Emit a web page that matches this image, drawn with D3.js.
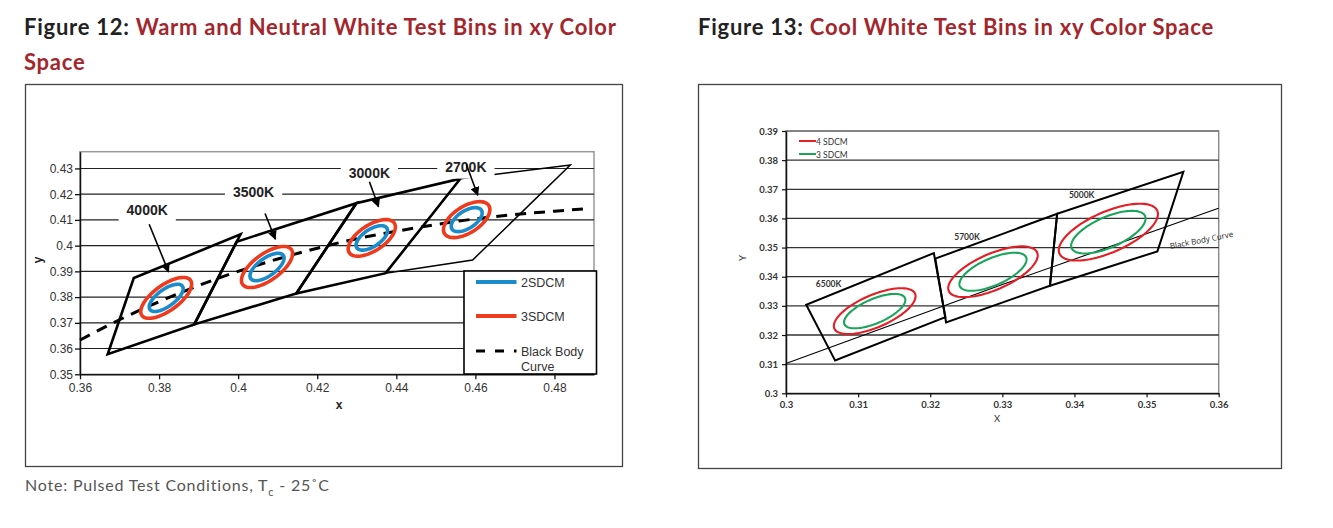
<!DOCTYPE html>
<html>
<head>
<meta charset="utf-8">
<script src="https://cdn.jsdelivr.net/npm/d3@7"></script>
<style>
body{margin:0;background:#fff;}
svg{display:block;}
</style>
</head>
<body>
<div id="container"></div>
<script>
// ---------- figure 12 : warm + neutral white ----------
let warmNames = ["4000K","3500K","3000K","2700K"];
// quad corners: bottom-left, top-left, top-right, bottom-right
let warmQuadX = [[0.3670,0.3736,0.4006,0.3889],[0.3889,0.3996,0.4299,0.4147],[0.4147,0.4299,0.4562,0.4373],[0.4373,0.4562,0.4840,0.4593]];
let warmQuadY = [[0.3578,0.3874,0.4044,0.3694],[0.3694,0.4015,0.4165,0.3814],[0.3814,0.4165,0.4260,0.3893],[0.3893,0.4260,0.4313,0.3944]];
// MacAdam 1-step ellipses
let warmCx = [0.3818,0.4073,0.4338,0.4578];
let warmCy = [0.3797,0.3917,0.4030,0.4101];
let warmA = [0.00313,0.00313,0.00278,0.00270];
let warmB = [0.00134,0.00139,0.00136,0.00140];
let warmTheta = [53.72,54.00,53.22,53.70];
let warmSteps = [3,2];
// black body curve
let bbWarmX = [0.36,0.37,0.38,0.39,0.40,0.41,0.42,0.43,0.44,0.45,0.46,0.47,0.48,0.4885];
let bbWarmY = [0.3633,0.3712,0.3782,0.3845,0.3900,0.3948,0.3990,0.4027,0.4056,0.4082,0.4104,0.4121,0.4134,0.4144];
// CCT callouts (label centre, arrow start, arrow end)
let warmLabelX = [0.3770,0.4039,0.4332,0.4576];
let warmLabelY = [0.4138,0.4208,0.4283,0.4307];
let warmArrowX0 = [0.3775,0.4068,0.4332,0.4577];
let warmArrowY0 = [0.4083,0.4125,0.4248,0.4316];
let warmArrowX1 = [0.3824,0.4094,0.4355,0.4606];
let warmArrowY1 = [0.3898,0.4025,0.4151,0.4196];
let warmXTicks = [0.36,0.38,0.40,0.42,0.44,0.46,0.48];
let warmYTicks = [0.35,0.36,0.37,0.38,0.39,0.40,0.41,0.42,0.43];
let warmLegend = ["2SDCM","3SDCM","Black Body Curve"];

// ---------- figure 13 : cool white ----------
let coolNames = ["6500K","5700K","5000K"];
let coolQuadX = [[0.3068,0.3028,0.3205,0.3221],[0.3222,0.3207,0.3376,0.3366],[0.3366,0.3376,0.3551,0.3515]];
let coolQuadY = [[0.3113,0.3304,0.3481,0.3261],[0.3243,0.3462,0.3616,0.3369],[0.3369,0.3616,0.3760,0.3487]];
let coolCx = [0.3123,0.3287,0.3447];
let coolCy = [0.3282,0.3417,0.3553];
let coolA = [0.00223,0.00246,0.00274];
let coolB = [0.00095,0.00105,0.00118];
let coolTheta = [58.57,59.09,59.62];
let coolSteps = [4,3];
let coolLabelX = [0.3059,0.3251,0.3410];
let coolLabelY = [0.3374,0.3537,0.3680];
let bbCoolX = [0.300,0.330,0.360];
let bbCoolY = [0.3102,0.3373,0.3635];
let coolXTicks = [0.30,0.31,0.32,0.33,0.34,0.35,0.36];
let coolYTicks = [0.30,0.31,0.32,0.33,0.34,0.35,0.36,0.37,0.38,0.39];
let coolLegend = ["4 SDCM","3 SDCM"];

let w = 1333;
let h = 528;
let fmt = d => String(+d.toFixed(2));

let viz = d3.select("#container")
  .append("svg")
    .attr("width", w)
    .attr("height", h)
;

// ellipse outline in data space (so it follows the x/y scales)
function ellipsePts(i, cx, cy, a, b, th, n){
  let r = th[i]*Math.PI/180;
  let pts = [];
  for (let k = 0; k < 90; k++){
    let t = k/90*2*Math.PI;
    let ex = a[i]*n*Math.cos(t), ey = b[i]*n*Math.sin(t);
    pts.push([cx[i] + ex*Math.cos(r) - ey*Math.sin(r), cy[i] + ex*Math.sin(r) + ey*Math.cos(r)]);
  }
  return pts;
}

// ---------- titles ----------
let titleFont = "Lato, 'Open Sans', sans-serif";
let t12 = viz.append("text").attr("x", 24).attr("y", 35)
  .style("font-family", titleFont).style("font-weight", 700).style("font-size", "22px").style("letter-spacing", "0.75px");
t12.append("tspan").attr("fill", "#222").text("Figure 12: ");
t12.append("tspan").attr("fill", "#a3262d").text("Warm and Neutral White Test Bins in xy Color");
viz.append("text").attr("x", 24).attr("y", 70)
  .style("font-family", titleFont).style("font-weight", 700).style("font-size", "22px").style("letter-spacing", "0.75px")
  .attr("fill", "#a3262d").text("Space");

let t13 = viz.append("text").attr("x", 698).attr("y", 35)
  .style("font-family", titleFont).style("font-weight", 700).style("font-size", "22px").style("letter-spacing", "0.75px");
t13.append("tspan").attr("fill", "#222").text("Figure 13: ");
t13.append("tspan").attr("fill", "#a3262d").text("Cool White Test Bins in xy Color Space");

let note = viz.append("text").attr("x", 25).attr("y", 491)
  .style("font-family", titleFont).style("font-size", "16px").style("letter-spacing", "0.8px").attr("fill", "#555");
note.append("tspan").text("Note: Pulsed Test Conditions, T");
note.append("tspan").attr("dy", 5).style("font-size", "11px").text("c");
note.append("tspan").attr("dy", -5).text(" - 25˚C");

// frames
viz.append("rect").attr("x", 25.5).attr("y", 84.5).attr("width", 597).attr("height", 382)
  .attr("fill", "none").attr("stroke", "#444").attr("stroke-width", 1.3);
viz.append("rect").attr("x", 698.5).attr("y", 84.5).attr("width", 583).attr("height", 384)
  .attr("fill", "none").attr("stroke", "#444").attr("stroke-width", 1.3);

// =============== figure 12 chart ===============
let xW = d3.scaleLinear().domain([0.36, 0.49]).range([80, 594]);
let yW = d3.scaleLinear().domain([0.35, 0.4365]).range([374.3, 151.7]);
let g12 = viz.append("g").classed("fig12", true);

// plot border (grey top/right)
g12.append("rect").attr("x", xW(0.36)).attr("y", yW(0.4365))
  .attr("width", xW(0.49)-xW(0.36)).attr("height", yW(0.35)-yW(0.4365))
  .attr("fill", "none").attr("stroke", "#999").attr("stroke-width", 1.5);

g12.selectAll(".grid").data(warmYTicks.slice(1)).enter()
  .append("line").classed("grid", true)
    .attr("x1", xW(0.36)).attr("x2", xW(0.49))
    .attr("y1", d => yW(d)).attr("y2", d => yW(d))
    .attr("stroke", "#222").attr("stroke-width", 1.1)
;

let xAxisW = d3.axisBottom(xW).tickValues(warmXTicks).tickFormat(fmt).tickSize(5).tickSizeOuter(0);
let yAxisW = d3.axisLeft(yW).tickValues(warmYTicks).tickFormat(fmt).tickSize(5).tickSizeOuter(0);
let gxW = g12.append("g").attr("transform", "translate(0," + yW(0.35) + ")").call(xAxisW);
let gyW = g12.append("g").attr("transform", "translate(" + xW(0.36) + ",0)").call(yAxisW);
[gxW, gyW].forEach(ax => {
  ax.select(".domain").attr("stroke", "#111").attr("stroke-width", 1.5);
  ax.selectAll("line").attr("stroke", "#111").attr("stroke-width", 1.3);
  ax.selectAll("text").style("font-family", "'Liberation Sans', Arial, sans-serif").style("font-size", "12px").attr("fill", "#333");
});
gxW.selectAll("text").attr("y", 9);
gyW.selectAll("text").attr("x", -7);

g12.append("text").attr("x", xW(0.4255)).attr("y", 409).attr("text-anchor", "middle")
  .style("font-family", "'Liberation Sans', Arial, sans-serif").style("font-weight", 700).style("font-size", "12px")
  .attr("fill", "#222").text("x");
g12.append("text").attr("transform", "translate(42," + yW(0.3945) + ") rotate(-90)").attr("text-anchor", "middle")
  .style("font-family", "'Liberation Sans', Arial, sans-serif").style("font-weight", 700).style("font-size", "12px")
  .attr("fill", "#222").text("y");

// quads (2700K thin, drawn first)
let quadW = d3.line().x(d => xW(d[0])).y(d => yW(d[1])).curve(d3.curveLinearClosed);
let warmOrder = [3,0,1,2];
g12.selectAll(".quad").data(warmOrder).enter()
  .append("path").classed("quad", true)
    .attr("d", i => quadW(warmQuadX[i].map((x, k) => [x, warmQuadY[i][k]])))
    .attr("fill", "none")
    .attr("stroke", "#000")
    .attr("stroke-width", i => i == 3 ? 1.5 : 2.6)
;

// black body curve
let bbLineW = d3.line().x(d => xW(d[0])).y(d => yW(d[1])).curve(d3.curveMonotoneX);
g12.append("path")
  .attr("d", bbLineW(bbWarmX.map((x, i) => [x, bbWarmY[i]])))
  .attr("fill", "none").attr("stroke", "#000").attr("stroke-width", 3)
  .attr("stroke-dasharray", "11,8")
;

// ellipses: red 3-step then blue 2-step
let ellW = d3.line().x(d => xW(d[0])).y(d => yW(d[1])).curve(d3.curveLinearClosed);
let warmColors = ["#ee3a1d", "#1a8ccb"];
warmSteps.forEach((n, s) => {
  g12.selectAll(".ell" + n).data(warmNames.map((d, i) => i)).enter()
    .append("path").classed("ell" + n, true)
      .attr("d", i => ellW(ellipsePts(i, warmCx, warmCy, warmA, warmB, warmTheta, n)))
      .attr("fill", "none")
      .attr("stroke", warmColors[s])
      .attr("stroke-width", 3.6)
  ;
});

// callouts
let defs = viz.append("defs");
defs.append("marker").attr("id", "arr").attr("viewBox", "0 0 10 10").attr("refX", 9).attr("refY", 5)
  .attr("markerWidth", 9).attr("markerHeight", 9).attr("markerUnits", "userSpaceOnUse").attr("orient", "auto")
  .append("path").attr("d", "M0,0L10,5L0,10z").attr("fill", "#000");

warmNames.forEach((name, i) => {
  let lab = g12.append("g");
  let txt = lab.append("text")
    .attr("x", xW(warmLabelX[i])).attr("y", yW(warmLabelY[i]))
    .attr("text-anchor", "middle").attr("dominant-baseline", "central")
    .style("font-family", "'Liberation Sans', Arial, sans-serif").style("font-weight", 700).style("font-size", "14px")
    .attr("fill", "#222").text(name);
  let bb = txt.node().getBBox();
  lab.insert("rect", "text")
    .attr("x", bb.x - 8).attr("y", bb.y - 4).attr("width", bb.width + 16).attr("height", bb.height + 8)
    .attr("fill", "#fff");
  g12.append("line")
    .attr("x1", xW(warmArrowX0[i])).attr("y1", yW(warmArrowY0[i]))
    .attr("x2", xW(warmArrowX1[i])).attr("y2", yW(warmArrowY1[i]))
    .attr("stroke", "#000").attr("stroke-width", 1.6).attr("marker-end", "url(#arr)");
});

// legend
let legW = g12.append("g").attr("transform", "translate(464,271)");
legW.append("rect").attr("width", 132.5).attr("height", 103).attr("fill", "#fff").attr("stroke", "#000").attr("stroke-width", 1.6);
let legWy = [11, 45, 80];
legW.selectAll(".lline").data(warmLegend).enter()
  .append("line").classed("lline", true)
    .attr("x1", 12).attr("x2", 52.5)
    .attr("y1", (d, i) => legWy[i]).attr("y2", (d, i) => legWy[i])
    .attr("stroke", (d, i) => i < 2 ? warmColors[1 - i] : "#000")
    .attr("stroke-width", (d, i) => i < 2 ? 4 : 3)
    .attr("stroke-dasharray", (d, i) => i == 2 ? "9,10" : null)
;
legW.selectAll(".ltext").data(warmLegend).enter()
  .append("text").classed("ltext", true)
    .attr("x", 57).attr("y", (d, i) => legWy[i] + 5)
    .style("font-family", "'Liberation Sans', Arial, sans-serif").style("font-size", "12.5px")
    .attr("fill", "#333")
    .each(function(d){
      let parts = d == "Black Body Curve" ? ["Black Body", "Curve"] : [d];
      let sel = d3.select(this);
      parts.forEach((p, k) => sel.append("tspan").attr("x", 57).attr("dy", k == 0 ? 0 : 14.5).text(p));
    })
;

// =============== figure 13 chart ===============
let xC = d3.scaleLinear().domain([0.30, 0.36]).range([786, 1218.7]);
let yC = d3.scaleLinear().domain([0.30, 0.39]).range([393.3, 131]);
let g13 = viz.append("g").classed("fig13", true);

g13.append("rect").attr("x", xC(0.30)).attr("y", yC(0.39))
  .attr("width", xC(0.36)-xC(0.30)).attr("height", yC(0.30)-yC(0.39))
  .attr("fill", "none").attr("stroke", "#888").attr("stroke-width", 1.4);

g13.selectAll(".grid").data(coolYTicks.slice(1)).enter()
  .append("line").classed("grid", true)
    .attr("x1", xC(0.30)).attr("x2", xC(0.36))
    .attr("y1", d => yC(d)).attr("y2", d => yC(d))
    .attr("stroke", d => d == 0.39 ? "#777" : "#333").attr("stroke-width", 1.3)
;

let xAxisC = d3.axisBottom(xC).tickValues(coolXTicks).tickFormat(fmt).tickSize(4).tickSizeOuter(0);
let yAxisC = d3.axisLeft(yC).tickValues(coolYTicks).tickFormat(fmt).tickSize(4).tickSizeOuter(0);
let gxC = g13.append("g").attr("transform", "translate(0," + yC(0.30) + ")").call(xAxisC);
let gyC = g13.append("g").attr("transform", "translate(" + xC(0.30) + ",0)").call(yAxisC);
[gxC, gyC].forEach(ax => {
  ax.select(".domain").attr("stroke", "#111").attr("stroke-width", 1.5);
  ax.selectAll("line").attr("stroke", "#111").attr("stroke-width", 1.2);
  ax.selectAll("text").style("font-family", "Lato, 'Open Sans', sans-serif").style("font-weight", 700).style("font-size", "9.5px").attr("fill", "#333");
});
gxC.selectAll("text").attr("y", 8);
gyC.selectAll("text").attr("x", -8);

g13.append("text").attr("x", 997).attr("y", 422).attr("text-anchor", "middle")
  .style("font-family", "Lato, 'Open Sans', sans-serif").style("font-size", "9.5px").attr("fill", "#333").text("X");
g13.append("text").attr("transform", "translate(746,258) rotate(-90)").attr("text-anchor", "middle")
  .style("font-family", "Lato, 'Open Sans', sans-serif").style("font-size", "9.5px").attr("fill", "#333").text("Y");

// black body line
let lineC = d3.line().x(d => xC(d[0])).y(d => yC(d[1]));
g13.append("path")
  .attr("d", lineC.curve(d3.curveMonotoneX)(bbCoolX.map((x, i) => [x, bbCoolY[i]])))
  .attr("fill", "none").attr("stroke", "#000").attr("stroke-width", 1.1);

let quadC = d3.line().x(d => xC(d[0])).y(d => yC(d[1])).curve(d3.curveLinearClosed);
g13.selectAll(".quad").data(coolNames.map((d, i) => i)).enter()
  .append("path").classed("quad", true)
    .attr("d", i => quadC(coolQuadX[i].map((x, k) => [x, coolQuadY[i][k]])))
    .attr("fill", "none").attr("stroke", "#000").attr("stroke-width", 2)
;

let coolColors = ["#e31e24", "#1aa55b"];
coolSteps.forEach((n, s) => {
  g13.selectAll(".ell" + n).data(coolNames.map((d, i) => i)).enter()
    .append("path").classed("ell" + n, true)
      .attr("d", i => quadC(ellipsePts(i, coolCx, coolCy, coolA, coolB, coolTheta, n)))
      .attr("fill", "none").attr("stroke", coolColors[s]).attr("stroke-width", 2.1)
  ;
});

g13.selectAll(".cct").data(coolNames).enter()
  .append("text").classed("cct", true)
    .attr("x", (d, i) => xC(coolLabelX[i])).attr("y", (d, i) => yC(coolLabelY[i]))
    .attr("text-anchor", "middle").attr("dominant-baseline", "central")
    .style("font-family", "Lato, 'Open Sans', sans-serif").style("font-weight", 700).style("font-size", "8.5px")
    .attr("fill", "#333").text(d => d)
;

g13.append("text")
  .attr("transform", "translate(" + xC(0.3533) + "," + yC(0.3495) + ") rotate(-11)")
  .style("font-family", "'Open Sans', sans-serif").style("font-size", "8px")
  .attr("fill", "#222").text("Black Body Curve");

// legend
let legCy = [141, 154];
g13.selectAll(".lline").data(coolLegend).enter()
  .append("line").classed("lline", true)
    .attr("x1", 799).attr("x2", 816)
    .attr("y1", (d, i) => legCy[i]).attr("y2", (d, i) => legCy[i])
    .attr("stroke", (d, i) => coolColors[i]).attr("stroke-width", 2)
;
g13.selectAll(".ltext").data(coolLegend).enter()
  .append("text").classed("ltext", true)
    .attr("x", 816).attr("y", (d, i) => legCy[i] + 3.5)
    .style("font-family", "Lato, 'Open Sans', sans-serif").style("font-size", "8.5px")
    .attr("fill", "#333").text(d => d)
;
</script>
</body>
</html>
